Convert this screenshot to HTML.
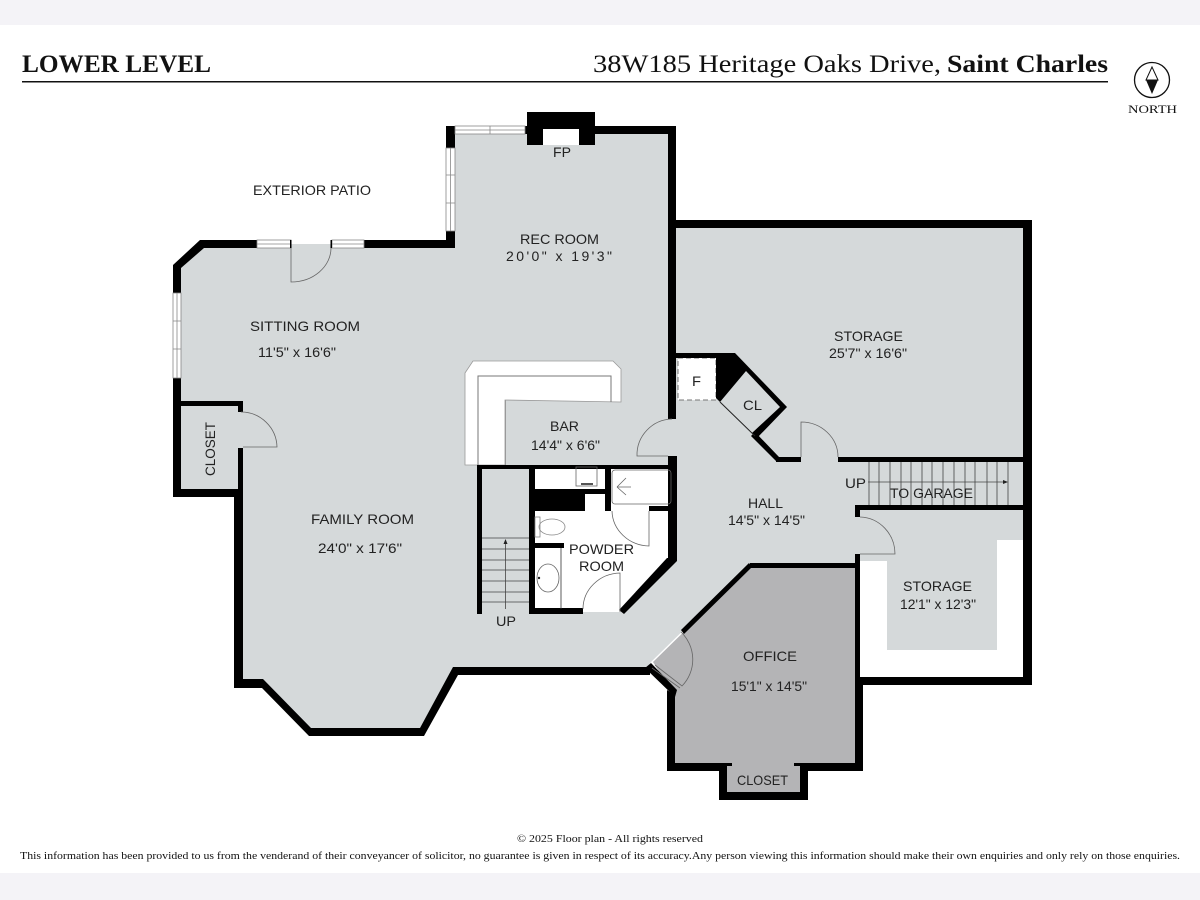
<!DOCTYPE html>
<html><head><meta charset="utf-8"><style>
html,body{margin:0;padding:0;background:#fff}
svg{display:block}
.l{font-family:"Liberation Sans",sans-serif;font-size:14px;fill:#222}
.s{font-family:"Liberation Serif",serif;fill:#111}
</style></head><body>
<svg width="1200" height="900" viewBox="0 0 1200 900" xmlns="http://www.w3.org/2000/svg">
<rect width="1200" height="900" fill="#fff"/>
<rect width="1200" height="25" fill="#f4f3f7"/>
<rect y="873" width="1200" height="27" fill="#f4f3f7"/>

<!-- header -->
<text class="s" x="22" y="72" font-size="25" font-weight="bold" textLength="189" lengthAdjust="spacingAndGlyphs">LOWER LEVEL</text>
<text class="s" x="593" y="72" font-size="25" textLength="348" lengthAdjust="spacingAndGlyphs">38W185 Heritage Oaks Drive,</text>
<text class="s" x="947" y="72" font-size="25" font-weight="bold" textLength="161" lengthAdjust="spacingAndGlyphs">Saint Charles</text>
<rect x="22" y="81" width="1086" height="1.5" fill="#111"/>
<circle cx="1152" cy="80" r="17.5" fill="#fff" stroke="#111" stroke-width="1.3"/>
<polygon points="1152,67 1146,80 1158,80" fill="#fff" stroke="#111" stroke-width="1"/>
<polygon points="1146,80 1158,80 1152,94" fill="#111"/>
<text class="s" x="1128" y="113" font-size="12" textLength="49" lengthAdjust="spacingAndGlyphs">NORTH</text>

<!-- floors -->
<polygon fill="#d5d9da" points="450,130 672,130 672,224 1028,224 1028,540 997,540 997,650 887,650 887,561 858,561 858,565 750,565 651,662 645,671 455,671 420,732 310,732 262,684 238,684 238,492 177,492 177,270 204,244 450,244"/>
<polygon fill="#b4b4b6" points="750,567 856,567 856,765 675,765 675,697 653,662"/>
<rect x="725" y="763" width="77" height="31" fill="#b4b4b6"/>
<!-- bar counter white -->
<polygon fill="#fff" stroke="#9a9a9a" stroke-width="0.8" points="465,373 473,361 613,361 621,369 621,402 505,400 505,465 465,465"/>
<path d="M478,465V376H611V402" fill="none" stroke="#777" stroke-width="1"/>
<rect x="505" y="400" width="1" height="65" fill="#999"/>
<!-- powder white -->
<polygon fill="#fff" points="534,466 672,466 672,560 622,612 534,612"/>
<!-- furnace -->
<rect x="678" y="358" width="38" height="42" fill="#fff" stroke="#777" stroke-width="1" stroke-dasharray="5 3"/>

<!-- walls -->
<g fill="#000">
<!-- fireplace & rec room top -->
<rect x="527" y="112" width="68" height="33"/>
<rect x="543" y="129" width="36" height="16" fill="#fff"/>
<rect x="524" y="126" width="4" height="8"/>
<rect x="595" y="126" width="81" height="8"/>
<rect x="668" y="126" width="8" height="293"/>
<rect x="668" y="220" width="364" height="8"/>
<rect x="1023" y="220" width="9" height="465"/>
<!-- rec left -->
<rect x="446" y="126" width="9" height="22"/>
<rect x="446" y="231" width="9" height="17"/>
<rect x="364" y="240" width="91" height="8"/>
<polygon points="200,240 257,240 257,248 204,248 181,268 181,293 173,293 173,265"/>
<rect x="173" y="378" width="8" height="119"/>
<rect x="173" y="401" width="70" height="5"/>
<rect x="238" y="401" width="5" height="11"/>
<rect x="238" y="448" width="5" height="42"/>
<rect x="173" y="489" width="70" height="8"/>
<polygon points="234,489 243,489 243,679 263,679 311,728 420,728 453,667 650,667 650,675 458,675 424,736 309,736 262,688 234,688"/>
<!-- office -->
<polygon points="645,668 651,663 677,690 675,697"/>
<polygon points="667,690 675,695 675,763 732,763 732,766 727,766 727,792 800,792 800,766 794,766 794,763 855,763 855,677 1032,677 1032,685 863,685 863,771 808,771 808,800 719,800 719,771 667,771"/>
<rect x="855" y="554" width="5" height="130"/>
<rect x="750" y="563" width="108" height="5"/>
<polygon points="681,630 749,563 752,567 684,634"/>
<!-- stair to garage -->
<rect x="838" y="457" width="187" height="5"/>
<rect x="855" y="505" width="170" height="5"/>
<rect x="855" y="505" width="5" height="12"/>
<!-- CL -->
<rect x="776" y="457" width="25" height="5"/>
<polygon points="755,432 779,457 776,461 751,436"/>
<polygon points="668,353 735,353 787,407 757,438 752,433 780,407 746,371 720,402 716,398 716,358 676,358 668,358"/>
<!-- bath -->
<rect x="668" y="456" width="9" height="104"/>
<polygon points="667,558 677,558 677,561 624,614 619,610"/>
<rect x="477" y="465" width="200" height="4"/>
<rect x="477" y="465" width="5" height="149"/>
<rect x="529" y="465" width="6" height="149"/>
<rect x="529" y="608" width="54" height="6"/>
<rect x="530" y="489" width="76" height="5"/>
<rect x="530" y="489" width="55" height="22"/>
<rect x="605" y="465" width="6" height="46"/>
<rect x="649" y="506" width="20" height="5"/>
<rect x="534" y="543" width="30" height="5"/>
</g>

<!-- windows -->
<g fill="#fff" stroke="#888" stroke-width="0.8">
<rect x="455" y="126" width="70" height="8"/><path d="M455,130H525M490,126V134" fill="none"/>
<rect x="446" y="148" width="9" height="83"/><path d="M450.500,148V231M446,175H455M446,203H455" fill="none"/>
<rect x="257" y="240" width="34" height="8"/><path d="M257,244H291" fill="none"/>
<rect x="332" y="240" width="32" height="8"/><path d="M332,244H364" fill="none"/>
<rect x="173" y="293" width="8" height="85"/><path d="M177,293V378M173,321H181M173,349H181" fill="none"/>
</g>
<rect x="290" y="240" width="1.500" height="8" fill="#000"/>
<rect x="330.500" y="240" width="1.500" height="8" fill="#000"/>

<!-- doors -->
<g fill="none" stroke="#666" stroke-width="0.8">
<path d="M291,248V282A40,34 0 0 0 331,248"/>
<path d="M243,447H277A36,36 0 0 0 241,412"/>
<path d="M668,456H637A36,36 0 0 1 672,419"/>
<path d="M801,457V422A37,35 0 0 1 838,457"/>
<path d="M860,554H895A36,37 0 0 0 860,517"/>
<path d="M612,511A38,36 0 0 0 649,546V511"/>
<path d="M583,609A38,36 0 0 1 620,573V612"/>
<path d="M681,632A38,38 0 0 1 682,686L655,665M652,668L680,688"/>
<path d="M720,402L755,436" stroke="#222" stroke-width="1"/>
</g>

<!-- stairs -->
<g stroke="#444" stroke-width="0.8" fill="none">
<path d="M869,462V505M879,462V505M890,462V505M901,462V505M911,462V505M922,462V505M932,462V505M943,462V505M954,462V505M965,462V505M975,462V505M987,462V505M997,462V505M1008,462V505"/>
<path d="M868,482H1006"/>
<path d="M482,538H529M482,549H529M482,560H529M482,570H529M482,581H529M482,592H529M482,602H529"/>
<path d="M505.500,609V542"/>
</g>
<polygon points="1008,482 1003,480 1003,484" fill="#222"/>
<polygon points="505.500,539 503.500,544 507.500,544" fill="#222"/>

<!-- fixtures -->
<g fill="none" stroke="#666" stroke-width="0.8">
<rect x="576" y="467" width="21" height="19"/>
<rect x="612" y="470" width="59" height="34" rx="3"/>
<path d="M617,487L626,478M617,487H631M617,487L626,495"/>
<ellipse cx="552" cy="527" rx="13" ry="8" stroke="#888"/>
<rect x="535" y="517" width="5" height="20" stroke="#888"/>
<ellipse cx="548" cy="578" rx="11" ry="14"/>
<path d="M561,548V609" stroke="#333"/>
</g>
<rect x="581" y="483" width="12" height="2" fill="#555"/>
<circle cx="539" cy="578" r="1.200" fill="#222"/>

<!-- labels -->
<text class="l" x="253" y="195" textLength="118" lengthAdjust="spacingAndGlyphs">EXTERIOR PATIO</text>
<text class="l" x="553" y="157" textLength="18" lengthAdjust="spacingAndGlyphs">FP</text>
<text class="l" x="520" y="244" textLength="79" lengthAdjust="spacingAndGlyphs">REC ROOM</text>
<text class="l" x="506" y="261" textLength="106" lengthAdjust="spacing">20'0" x 19'3"</text>
<text class="l" x="250" y="331" textLength="110" lengthAdjust="spacingAndGlyphs">SITTING ROOM</text>
<text class="l" x="258" y="357" textLength="78" lengthAdjust="spacingAndGlyphs">11'5" x 16'6"</text>
<text class="l" x="834" y="341" textLength="69" lengthAdjust="spacingAndGlyphs">STORAGE</text>
<text class="l" x="829" y="358" textLength="78" lengthAdjust="spacingAndGlyphs">25'7" x 16'6"</text>
<text class="l" x="692" y="386" textLength="9" lengthAdjust="spacingAndGlyphs">F</text>
<text class="l" x="743" y="410" textLength="19" lengthAdjust="spacingAndGlyphs">CL</text>
<text class="l" x="550" y="431" textLength="29" lengthAdjust="spacingAndGlyphs">BAR</text>
<text class="l" x="531" y="450" textLength="69" lengthAdjust="spacingAndGlyphs">14'4" x 6'6"</text>
<text class="l" x="569" y="554" textLength="65" lengthAdjust="spacingAndGlyphs">POWDER</text>
<text class="l" x="579" y="571" textLength="45" lengthAdjust="spacingAndGlyphs">ROOM</text>
<text class="l" x="496" y="626" textLength="20" lengthAdjust="spacingAndGlyphs">UP</text>
<text class="l" x="748" y="508" textLength="35" lengthAdjust="spacingAndGlyphs">HALL</text>
<text class="l" x="728" y="525" textLength="77" lengthAdjust="spacingAndGlyphs">14'5" x 14'5"</text>
<text class="l" x="845" y="488" textLength="21" lengthAdjust="spacingAndGlyphs">UP</text>
<text class="l" x="890" y="498" textLength="83" lengthAdjust="spacingAndGlyphs">TO GARAGE</text>
<text class="l" x="903" y="591" textLength="69" lengthAdjust="spacingAndGlyphs">STORAGE</text>
<text class="l" x="900" y="609" textLength="76" lengthAdjust="spacingAndGlyphs">12'1" x 12'3"</text>
<text class="l" x="743" y="661" textLength="54" lengthAdjust="spacingAndGlyphs">OFFICE</text>
<text class="l" x="731" y="691" textLength="76" lengthAdjust="spacingAndGlyphs">15'1" x 14'5"</text>
<text class="l" x="737" y="785" textLength="51" lengthAdjust="spacingAndGlyphs">CLOSET</text>
<text class="l" x="311" y="524" textLength="103" lengthAdjust="spacingAndGlyphs">FAMILY ROOM</text>
<text class="l" x="318" y="553" textLength="84" lengthAdjust="spacingAndGlyphs">24'0" x 17'6"</text>
<text class="l" transform="translate(215,476) rotate(-90)" x="0" y="0" textLength="54" lengthAdjust="spacingAndGlyphs">CLOSET</text>

<!-- footer -->
<text class="s" x="517" y="842" font-size="10.500" textLength="186" lengthAdjust="spacingAndGlyphs">© 2025  Floor plan  - All rights reserved</text>
<text class="s" x="20" y="859" font-size="11" textLength="1160" lengthAdjust="spacingAndGlyphs">This information has been provided to us from the venderand of their conveyancer of solicitor, no guarantee is given in respect of its accuracy.Any person viewing this information should make their own enquiries and only rely on those enquiries.</text>
</svg>
</body></html>
